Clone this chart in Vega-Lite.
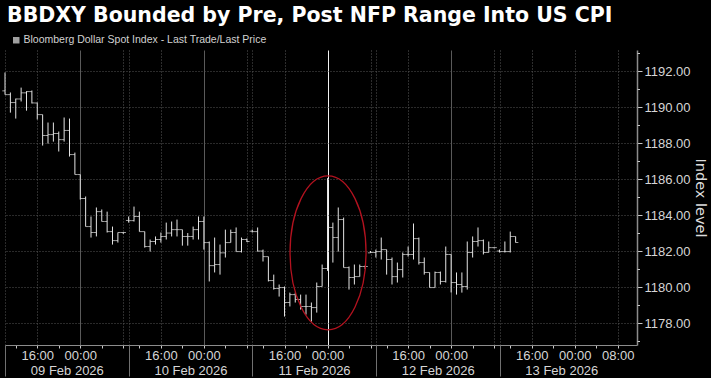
{
  "$schema": "https://vega.github.io/schema/vega-lite/v6.json",
  "width": 632,
  "height": 295,
  "autosize": {"type": "none"},
  "padding": {"left": 5, "top": 50, "right": 74, "bottom": 33},
  "background": "#000000",
  "title": {
    "text": "BBDXY Bounded by Pre, Post NFP Range Into US CPI",
    "anchor": "start",
    "frame": "group",
    "font": "DejaVu Sans",
    "fontSize": 20.5,
    "fontWeight": "bold",
    "color": "#ffffff",
    "offset": 9,
    "dx": 2
  },
  "config": {
    "view": {"stroke": null},
    "axis": {"labelFont": "Liberation Sans", "labelFontSize": 13, "labelColor": "#d6d6d6", "titleFont": "DejaVu Sans"}
  },
  "datasets": {
    "bars": [
      {"t":0,"o":1190.9,"h":1191.92,"l":1190.69,"c":1190.69},
      {"t":1,"o":1190.69,"h":1190.81,"l":1189.69,"c":1190.25},
      {"t":2,"o":1190.25,"h":1190.47,"l":1189.36,"c":1190.45},
      {"t":3,"o":1190.45,"h":1191.08,"l":1190.31,"c":1190.79},
      {"t":4,"o":1190.79,"h":1190.88,"l":1189.8,"c":1190.86},
      {"t":5,"o":1190.86,"h":1190.92,"l":1190.2,"c":1190.23},
      {"t":6,"o":1190.23,"h":1190.25,"l":1189.31,"c":1189.58},
      {"t":7,"o":1189.58,"h":1189.58,"l":1187.86,"c":1188.42},
      {"t":8,"o":1188.42,"h":1189.14,"l":1187.97,"c":1188.47},
      {"t":9,"o":1188.47,"h":1189.14,"l":1188.08,"c":1188.53},
      {"t":10,"o":1188.53,"h":1188.64,"l":1187.53,"c":1188.19},
      {"t":11,"o":1188.19,"h":1189.42,"l":1188.08,"c":1188.7},
      {"t":12,"o":1188.7,"h":1189.36,"l":1187.25,"c":1187.36},
      {"t":13,"o":1187.36,"h":1187.47,"l":1186.25,"c":1186.25},
      {"t":14,"o":1186.25,"h":1186.25,"l":1184.86,"c":1184.92},
      {"t":15,"o":1184.92,"h":1185.03,"l":1183.36,"c":1183.36},
      {"t":16,"o":1183.36,"h":1183.92,"l":1182.75,"c":1183.03},
      {"t":17,"o":1183.03,"h":1184.42,"l":1182.81,"c":1184.19},
      {"t":18,"o":1184.19,"h":1184.31,"l":1183.64,"c":1183.64},
      {"t":19,"o":1183.64,"h":1184.19,"l":1183.03,"c":1183.08},
      {"t":20,"o":1183.08,"h":1183.36,"l":1182.36,"c":1182.58},
      {"t":21,"o":1182.58,"h":1183.03,"l":1182.47,"c":1183.03},
      {"t":22,"o":1183.03,"h":1183.05,"l":1182.95,"c":1183.03},
      {"t":23,"o":1183.7,"h":1183.92,"l":1183.58,"c":1183.69},
      {"t":24,"o":1183.69,"h":1184.47,"l":1183.64,"c":1183.92},
      {"t":25,"o":1183.92,"h":1184.19,"l":1183.08,"c":1183.08},
      {"t":26,"o":1183.08,"h":1183.08,"l":1182.19,"c":1182.25},
      {"t":27,"o":1182.25,"h":1182.64,"l":1181.97,"c":1182.53},
      {"t":28,"o":1182.53,"h":1182.81,"l":1182.36,"c":1182.64},
      {"t":29,"o":1182.64,"h":1183.03,"l":1182.47,"c":1182.81},
      {"t":30,"o":1182.81,"h":1183.58,"l":1182.64,"c":1183.0},
      {"t":31,"o":1183.0,"h":1183.64,"l":1182.81,"c":1183.19},
      {"t":32,"o":1183.19,"h":1183.75,"l":1182.81,"c":1183.19},
      {"t":33,"o":1183.19,"h":1183.19,"l":1182.3,"c":1182.81},
      {"t":34,"o":1182.81,"h":1183.0,"l":1182.3,"c":1182.81},
      {"t":35,"o":1182.81,"h":1183.36,"l":1182.64,"c":1183.19},
      {"t":36,"o":1183.19,"h":1183.92,"l":1182.64,"c":1183.64},
      {"t":37,"o":1183.64,"h":1183.92,"l":1182.08,"c":1182.47},
      {"t":38,"o":1182.47,"h":1182.53,"l":1180.31,"c":1181.19},
      {"t":39,"o":1181.19,"h":1182.75,"l":1180.81,"c":1181.25},
      {"t":40,"o":1181.25,"h":1182.36,"l":1180.69,"c":1181.9},
      {"t":41,"o":1181.9,"h":1183.19,"l":1181.64,"c":1182.47},
      {"t":42,"o":1182.47,"h":1183.19,"l":1182.47,"c":1183.03},
      {"t":43,"o":1183.03,"h":1183.31,"l":1181.97,"c":1181.97},
      {"t":44,"o":1181.97,"h":1182.75,"l":1181.92,"c":1182.64},
      {"t":45,"o":1182.64,"h":1182.7,"l":1182.5,"c":1182.53},
      {"t":46,"o":1183.1,"h":1183.19,"l":1183.03,"c":1183.08},
      {"t":47,"o":1183.08,"h":1183.31,"l":1181.97,"c":1182.0},
      {"t":48,"o":1182.0,"h":1182.08,"l":1181.42,"c":1181.69},
      {"t":49,"o":1181.69,"h":1181.69,"l":1180.31,"c":1180.36},
      {"t":50,"o":1180.36,"h":1180.69,"l":1179.86,"c":1179.92},
      {"t":51,"o":1179.92,"h":1180.14,"l":1179.47,"c":1179.97},
      {"t":52,"o":1179.97,"h":1180.03,"l":1178.36,"c":1179.14},
      {"t":53,"o":1179.14,"h":1179.69,"l":1178.92,"c":1179.58},
      {"t":54,"o":1179.58,"h":1179.69,"l":1179.14,"c":1179.31},
      {"t":55,"o":1179.31,"h":1179.58,"l":1178.75,"c":1178.92},
      {"t":56,"o":1178.92,"h":1179.58,"l":1178.47,"c":1178.92},
      {"t":57,"o":1178.92,"h":1179.14,"l":1178.08,"c":1178.86},
      {"t":58,"o":1178.86,"h":1180.25,"l":1178.58,"c":1180.03},
      {"t":59,"o":1180.03,"h":1181.25,"l":1180.03,"c":1181.03},
      {"t":60,"o":1181.03,"h":1186.05,"l":1180.9,"c":1183.31},
      {"t":61,"o":1183.31,"h":1183.58,"l":1181.36,"c":1182.75},
      {"t":62,"o":1182.75,"h":1184.42,"l":1181.97,"c":1183.75},
      {"t":63,"o":1183.75,"h":1183.86,"l":1181.08,"c":1181.08},
      {"t":64,"o":1181.08,"h":1181.14,"l":1179.86,"c":1180.53},
      {"t":65,"o":1180.53,"h":1181.25,"l":1180.14,"c":1180.58},
      {"t":66,"o":1180.58,"h":1181.25,"l":1180.58,"c":1181.14},
      {"t":67,"o":1181.14,"h":1181.2,"l":1181.0,"c":1181.14},
      {"t":68,"o":1181.9,"h":1182.0,"l":1181.9,"c":1181.92},
      {"t":69,"o":1181.92,"h":1182.08,"l":1181.64,"c":1181.97},
      {"t":70,"o":1181.97,"h":1182.75,"l":1181.53,"c":1182.08},
      {"t":71,"o":1182.08,"h":1182.08,"l":1180.69,"c":1181.53},
      {"t":72,"o":1181.53,"h":1181.64,"l":1180.14,"c":1180.58},
      {"t":73,"o":1180.58,"h":1181.36,"l":1180.25,"c":1180.97},
      {"t":74,"o":1180.97,"h":1181.92,"l":1180.53,"c":1181.81},
      {"t":75,"o":1181.81,"h":1182.25,"l":1181.69,"c":1181.81},
      {"t":76,"o":1181.81,"h":1183.53,"l":1181.53,"c":1182.69},
      {"t":77,"o":1182.69,"h":1182.75,"l":1181.25,"c":1181.36},
      {"t":78,"o":1181.36,"h":1181.64,"l":1180.69,"c":1180.81},
      {"t":79,"o":1180.81,"h":1180.81,"l":1179.97,"c":1179.97},
      {"t":80,"o":1179.97,"h":1180.86,"l":1179.97,"c":1180.81},
      {"t":81,"o":1180.81,"h":1180.86,"l":1180.14,"c":1180.31},
      {"t":82,"o":1180.31,"h":1182.25,"l":1180.25,"c":1181.81},
      {"t":83,"o":1181.81,"h":1181.81,"l":1179.7,"c":1180.25},
      {"t":84,"o":1180.25,"h":1180.81,"l":1179.58,"c":1180.14},
      {"t":85,"o":1180.14,"h":1180.81,"l":1179.69,"c":1180.03},
      {"t":86,"o":1180.03,"h":1182.53,"l":1179.86,"c":1181.92},
      {"t":87,"o":1181.92,"h":1182.81,"l":1181.64,"c":1182.53},
      {"t":88,"o":1182.53,"h":1183.31,"l":1182.25,"c":1182.58},
      {"t":89,"o":1182.58,"h":1182.64,"l":1181.81,"c":1181.92},
      {"t":90,"o":1181.92,"h":1182.53,"l":1181.92,"c":1182.19},
      {"t":91,"o":1182.19,"h":1182.2,"l":1182.15,"c":1182.19},
      {"t":92,"o":1182.0,"h":1182.08,"l":1181.92,"c":1181.97},
      {"t":93,"o":1181.97,"h":1182.53,"l":1181.92,"c":1181.97},
      {"t":94,"o":1181.97,"h":1183.08,"l":1181.92,"c":1182.81},
      {"t":95,"o":1182.81,"h":1182.81,"l":1182.47,"c":1182.47}
    ],
    "note": [{"t": 60.1, "v": 1181.9}]
  },
  "layer": [
    {
      "data": {"name": "bars"},
      "mark": {"type": "rule", "color": "#e4e4e4", "strokeWidth": 1},
      "encoding": {
        "x": {
          "field": "t", "type": "quantitative",
          "scale": {"domain": [0, 117.58], "nice": false, "zero": false},
          "axis": {
            "orient": "bottom",
            "values": [2,6,10,14,18,22,25,29,33,37,41,45,48,52,56,60,64,68,71,75,79,83,87,91,94,98,102,106,110,114],
            "labelExpr": "datum.value % 23 == 6 ? '16:00' : datum.value % 23 == 14 ? '00:00' : datum.value == 114 ? '08:00' : ''",
            "labelOverlap": false, "labelBound": false, "labelFlush": false,
            "tickSize": 3, "tickColor": "#c8c8c8", "labelPadding": 1,
            "domainColor": "#8c8c8c", "domainWidth": 1,
            "grid": true,
            "gridColor": {"condition": {"test": "datum.value == 60", "value": "#f2f2f2"}, "value": "#5a5a5a"},
            "gridDash": {"condition": {"test": "datum.value % 23 == 14 && datum.value != 106", "value": []}, "value": [1, 2]},
            "gridOpacity": {"condition": {"test": "datum.value % 23 == 2 || datum.value % 23 == 10 || datum.value % 23 == 18", "value": 0}, "value": 1},
            "title": null, "zindex": 0
          }
        },
        "y": {
          "field": "l", "type": "quantitative",
          "scale": {"domain": [1176.78, 1193.17], "nice": false, "zero": false},
          "axis": {
            "orient": "right",
            "values": [1178,1180,1182,1184,1186,1188,1190,1192],
            "format": ".2f",
            "tickSize": 5, "tickColor": "#c8c8c8", "labelPadding": 2,
            "domainColor": "#8c8c8c", "domainWidth": 1.5,
            "grid": true, "gridColor": "#555555", "gridDash": [1, 2],
            "title": "Index level", "titleFontSize": 14.5, "titleFontWeight": "normal",
            "titleColor": "#dcdcdc", "titlePadding": 2, "zindex": 0
          }
        },
        "y2": {"field": "h"}
      }
    },
    {
      "data": {"name": "bars"},
      "mark": {"type": "tick", "orient": "horizontal", "size": 2.7, "thickness": 1, "xOffset": -1.35, "color": "#e4e4e4"},
      "encoding": {
        "x": {
          "field": "t", "type": "quantitative",
          "scale": {"domain": [0, 117.58], "nice": false, "zero": false},
          "axis": {
            "orient": "bottom", "values": [0, 23, 46, 69, 92],
            "labels": false, "domain": false,
            "tickSize": 31, "tickColor": "#707070", "tickWidth": 1,
            "grid": true, "gridColor": "#555555", "gridDash": [1, 2],
            "title": null, "zindex": 0
          }
        },
        "y": {
          "field": "o", "type": "quantitative",
          "scale": {"domain": [1176.78, 1193.17], "nice": false, "zero": false},
          "axis": {
            "orient": "right", "values": [1177,1179,1181,1183,1185,1187,1189,1191,1193],
            "labels": false, "domain": false, "grid": false,
            "tickSize": 2.5, "tickColor": "#c8c8c8", "title": null, "zindex": 0
          }
        }
      }
    },
    {
      "data": {"name": "bars"},
      "mark": {"type": "tick", "orient": "horizontal", "size": 2.7, "thickness": 1, "xOffset": 1.35},
      "encoding": {
        "x": {
          "field": "t", "type": "quantitative",
          "scale": {"domain": [0, 117.58], "nice": false, "zero": false},
          "axis": {
            "orient": "bottom", "values": [11.5, 34.5, 57.5, 80.5, 103.5],
            "labelExpr": "['09 Feb 2026','10 Feb 2026','11 Feb 2026','12 Feb 2026','13 Feb 2026'][floor(datum.value / 23)]",
            "ticks": false, "domain": false, "grid": false,
            "labelPadding": 19, "labelOverlap": false, "labelBound": false,
            "title": null, "zindex": 0
          }
        },
        "y": {
          "field": "c", "type": "quantitative",
          "scale": {"domain": [1176.78, 1193.17], "nice": false, "zero": false},
          "axis": null
        },
        "color": {
          "datum": "Bloomberg Dollar Spot Index - Last Trade/Last Price",
          "scale": {"range": ["#e4e4e4"]},
          "legend": {
            "orient": "none", "legendX": 6, "legendY": -15, "title": null,
            "symbolType": "square", "symbolSize": 42, "symbolFillColor": "#ffffff", "symbolStrokeWidth": 0,
            "labelFont": "Liberation Sans", "labelFontSize": 10.5, "labelColor": "#d2d2d2",
            "labelOffset": 2, "labelLimit": 500, "padding": 0
          }
        }
      }
    },
    {
      "data": {"name": "note"},
      "mark": {
        "type": "point",
        "shape": "M0,-1 A0.4935,1 0 1,1 0,1 A0.4935,1 0 1,1 0,-1 Z",
        "size": 23716, "filled": false, "color": "#b3121f", "strokeWidth": 1.3, "opacity": 1, "clip": false
      },
      "encoding": {
        "x": {"field": "t", "type": "quantitative", "axis": null},
        "y": {"field": "v", "type": "quantitative", "axis": null}
      }
    }
  ],
  "resolve": {"axis": {"x": "independent", "y": "independent"}}
}
